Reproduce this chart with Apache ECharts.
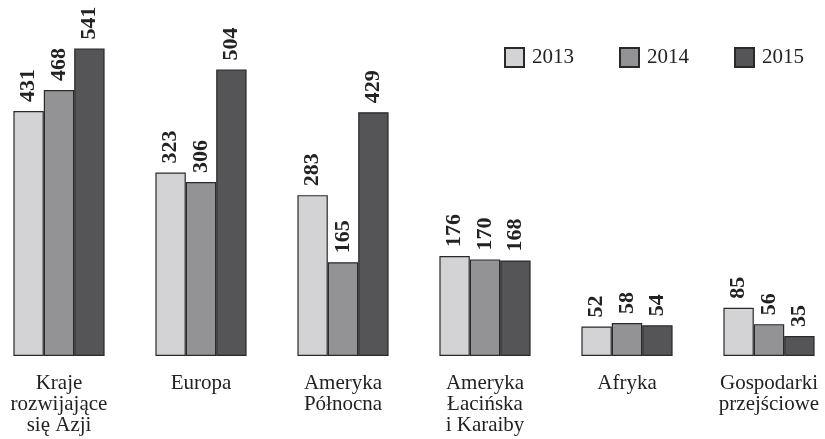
<!DOCTYPE html>
<html><head><meta charset="utf-8">
<script src="https://cdn.jsdelivr.net/npm/echarts@6/dist/echarts.min.js"></script>
<style>html,body{margin:0;padding:0;background:#fff;overflow:hidden;width:825px;height:439px}#c{width:852px;height:439px;margin-left:-12px}</style>
</head><body><div id="c"></div>
<script>
const categories = ['Kraje\nrozwijające\nsię Azji', 'Europa', 'Ameryka\nPółnocna', 'Ameryka\nŁacińska\ni Karaiby', 'Afryka', 'Gospodarki\nprzejściowe'];
const seriesNames = ['2013', '2014', '2015'];
const v2013 = [431, 323, 283, 176, 52, 85];
const v2014 = [468, 306, 165, 170, 58, 56];
const v2015 = [541, 504, 429, 168, 54, 35];
const colors = ['#d3d3d5', '#939396', '#555558'];
const font = '"Liberation Serif", "Times New Roman", serif';

const chart = echarts.init(document.getElementById('c'));
const mk = (name, data, color) => ({
  name, type: 'bar', data, barWidth: 30.4, barGap: '0%',
  itemStyle: { color, borderColor: '#2a2a2a', borderWidth: 1.2 },
  label: { show: true, position: 'top', rotate: 90, align: 'left', verticalAlign: 'middle', distance: 9,
           fontFamily: font, fontWeight: 'bold', fontSize: 22, color: '#222' },
  emphasis: { disabled: true }
});
chart.setOption({
  animation: false,
  textStyle: { fontFamily: font },
  legend: { right: 31, top: 42, itemWidth: 19, itemHeight: 19, itemGap: 45,
            textStyle: { fontFamily: font, fontSize: 21, color: '#222', padding: [0, 0, 0, 3] }, icon: 'rect', data: seriesNames },
  grid: { left: 0, right: 0, top: 15, bottom: 83, containLabel: false },
  xAxis: { type: 'category', data: categories, axisLine: { show: false }, axisTick: { show: false },
           axisLabel: { interval: 0, margin: 17, fontFamily: font, fontSize: 21, lineHeight: 21, color: '#222' } },
  yAxis: { type: 'value', min: 0, max: 600, show: false, splitLine: { show: false } },
  series: [mk(seriesNames[0], v2013, colors[0]), mk(seriesNames[1], v2014, colors[1]), mk(seriesNames[2], v2015, colors[2])]
});
</script></body></html>
